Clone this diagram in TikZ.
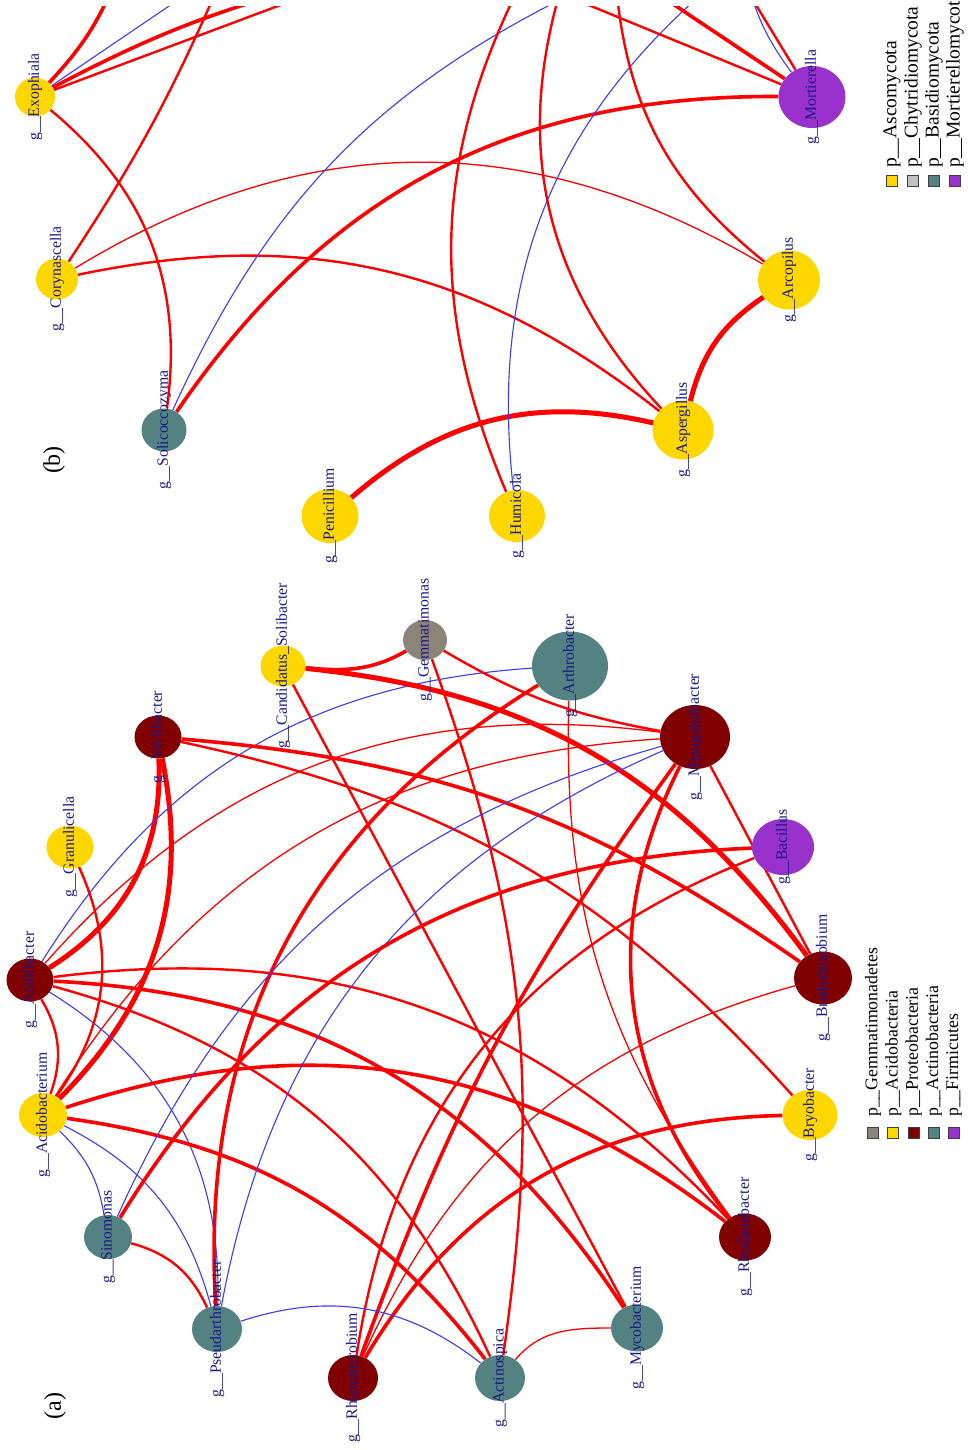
\documentclass[tikz,border=0pt]{standalone}
\usepackage{fontspec}
\setmainfont{Liberation Serif}
\usetikzlibrary{shapes.geometric,backgrounds}
\definecolor{acidoyellow}{RGB}{255,215,0}
\definecolor{proteored}{RGB}{128,0,0}
\definecolor{actinoteal}{RGB}{84,130,130}
\definecolor{gemmagrey}{RGB}{140,132,120}
\definecolor{firmipurple}{RGB}{153,50,204}
\definecolor{chytrigrey}{RGB}{192,192,192}
\definecolor{labelblue}{RGB}{25,25,135}
\definecolor{posred}{RGB}{255,0,0}
\definecolor{negblue}{RGB}{60,60,245}

\begin{document}
\begin{tikzpicture}[x=1pt,y=-1pt]
    \tikzstyle{genus}=[ellipse, inner sep=0pt]
    \tikzstyle{glabel}=[text=labelblue, rotate=90, inner sep=0pt, font=\fontsize{15.7}{16}\selectfont]
    \tikzstyle{keybox}=[draw=black!75, line width=0.8pt, minimum width=11pt, minimum height=11pt, inner sep=0pt]
    \tikzstyle{keytext}=[rotate=90, anchor=west, inner sep=0pt, font=\fontsize{17.8}{18}\selectfont]
    \tikzstyle{poslink}=[draw=posred]
    \tikzstyle{neglink}=[draw=negblue, line width=1.1pt]
    \tikzstyle{linkthin}=[line width=1.3pt]
    \tikzstyle{linkmid}=[line width=2.4pt]
    \tikzstyle{linkthick}=[line width=3.6pt]
    \tikzstyle{linkheavy}=[line width=5pt]
    \useasboundingbox (0,0) rectangle (968,1450);

    \node[genus, fill=acidoyellow, minimum width=40, minimum height=39] (exophiala) at (35,97) {};
    \node[genus, fill=acidoyellow, minimum width=42, minimum height=41] (corynascella) at (57,279) {};
    \node[genus, fill=actinoteal, minimum width=45, minimum height=43] (solicoccozyma) at (164,430) {};
    \node[genus, fill=acidoyellow, minimum width=57, minimum height=54] (penicillium) at (330,516) {};
    \node[genus, fill=acidoyellow, minimum width=56, minimum height=52] (humicola) at (517,516) {};
    \node[genus, fill=acidoyellow, minimum width=61, minimum height=59] (aspergillus) at (683,430) {};
    \node[genus, fill=acidoyellow, minimum width=62, minimum height=59] (arcopilus) at (789,280) {};
    \node[genus, fill=firmipurple, minimum width=67, minimum height=62] (mortierella) at (812,97) {};

    \coordinate (up-a) at (116,-20);
    \coordinate (up-b) at (200,-15);
    \coordinate (up-c) at (310,-15);
    \coordinate (up-d) at (334,-15);
    \coordinate (up-e) at (221,-20);
    \coordinate (up-f) at (590,-15);
    \coordinate (up-g) at (525,-25);
    \coordinate (up-h) at (712,-15);
    \coordinate (up-i) at (562,-15);
    \coordinate (up-j) at (616,-15);
    \coordinate (up-k) at (540,-15);
    \coordinate (up-l) at (640,-18);
    \coordinate (up-m) at (742,-18);
    \coordinate (up-n) at (748,-15);

    \node[genus, fill=proteored, minimum width=47, minimum height=43] (acidibacter) at (30,980) {};
    \node[genus, fill=acidoyellow, minimum width=47, minimum height=43] (granulicella) at (70,847) {};
    \node[genus, fill=proteored, minimum width=47, minimum height=43] (variibacter) at (158,737) {};
    \node[genus, fill=acidoyellow, minimum width=45, minimum height=41] (solibacter) at (283,666) {};
    \node[genus, fill=gemmagrey, minimum width=44, minimum height=40] (gemmatimonas) at (425,640) {};
    \node[genus, fill=actinoteal, minimum width=76, minimum height=69] (arthrobacter) at (570,666) {};
    \node[genus, fill=proteored, minimum width=70, minimum height=64] (mizugakiibacter) at (695,737) {};
    \node[genus, fill=firmipurple, minimum width=62, minimum height=56] (bacillus) at (783,847) {};
    \node[genus, fill=proteored, minimum width=58, minimum height=53] (bradyrhizobium) at (823,978) {};
    \node[genus, fill=acidoyellow, minimum width=55, minimum height=50] (bryobacter) at (810,1115) {};
    \node[genus, fill=proteored, minimum width=52, minimum height=47] (rhodanobacter) at (745,1237) {};
    \node[genus, fill=actinoteal, minimum width=52, minimum height=47] (mycobacterium) at (637,1328) {};
    \node[genus, fill=actinoteal, minimum width=50, minimum height=46] (actinospica) at (500,1378) {};
    \node[genus, fill=proteored, minimum width=50, minimum height=46] (rhizomicrobium) at (353,1378) {};
    \node[genus, fill=actinoteal, minimum width=50, minimum height=46] (pseudarthrobacter) at (217,1329) {};
    \node[genus, fill=actinoteal, minimum width=48, minimum height=44] (sinomonas) at (108,1237) {};
    \node[genus, fill=acidoyellow, minimum width=48, minimum height=44] (acidobacterium) at (43,1115) {};

    \begin{pgfonlayer}{background}
        \fill[white] (0,0) rectangle (968,1450);
        \begin{scope}
            \clip (0,7) rectangle (968,600);
            \draw[poslink, linkthick] (exophiala) to[bend right=10] (up-a);
            \draw[neglink] (exophiala) -- (up-b);
            \draw[poslink, linkthick] (exophiala) to[bend left=6] (up-c);
            \draw[poslink, linkmid] (exophiala) -- (up-d);
            \draw[poslink, linkmid] (exophiala) to[bend left=29] (solicoccozyma);
            \draw[poslink, linkmid] (corynascella) to[bend right=5] (up-e);
            \draw[poslink, linkthin] (corynascella) to[bend left=31] (arcopilus);
            \draw[poslink, linkmid] (corynascella) to[bend left=25] (aspergillus);
            \draw[neglink] (solicoccozyma) to[bend left=20] (up-f);
            \draw[poslink, linkthick] (solicoccozyma) to[bend left=28] (mortierella);
            \draw[poslink, linkheavy] (penicillium) to[bend left=27] (aspergillus);
            \draw[poslink, linkmid] (humicola) to[bend left=25] (up-g);
            \draw[neglink] (humicola) to[bend left=28] (up-h);
            \draw[poslink, linkmid] (aspergillus) to[bend left=30] (up-i);
            \draw[poslink, linkmid] (arcopilus) to[bend left=23] (up-j);
            \draw[poslink, linkheavy] (arcopilus) to[bend right=21] (aspergillus);
            \draw[poslink, linkmid] (mortierella) -- (up-k);
            \draw[poslink, linkthick] (mortierella) -- (up-l);
            \draw[poslink, linkmid] (mortierella) -- (up-m);
            \draw[neglink] (mortierella) to[bend left=10] (up-n);
        \end{scope}

        \draw[poslink, linkheavy] (acidibacter) to[bend right=30] (variibacter);
        \draw[poslink, linkheavy] (variibacter) to[bend left=28] (acidobacterium);
        \draw[neglink] (acidibacter) to[bend left=27] (arthrobacter);
        \draw[poslink, linkthin] (acidibacter) to[bend left=28] (mizugakiibacter);
        \draw[poslink, linkmid] (acidibacter) to[bend left=27] (rhodanobacter);
        \draw[poslink, linkthick] (acidibacter) to[bend left=27] (mycobacterium);
        \draw[poslink, linkmid] (acidibacter) to[bend left=25] (actinospica);
        \draw[neglink] (acidibacter) to[bend left=30] (pseudarthrobacter);
        \draw[poslink, linkmid] (acidibacter) to[bend left=25] (acidobacterium);
        \draw[poslink, linkmid] (granulicella) to[bend left=30] (acidobacterium);
        \draw[poslink, linkthin] (acidobacterium) to[bend left=27] (mizugakiibacter);
        \draw[poslink, linkthick] (acidobacterium) to[bend left=28] (rhodanobacter);
        \draw[neglink] (acidobacterium) to[bend left=18] (sinomonas);
        \draw[neglink] (acidobacterium) to[bend left=24] (pseudarthrobacter);
        \draw[poslink, linkthick] (acidobacterium) to[bend left=22] (actinospica);
        \draw[poslink, linkthick] (variibacter) to[bend left=15] (bradyrhizobium);
        \draw[poslink, linkmid] (variibacter) to[bend left=18] (bryobacter);
        \draw[poslink, linkthick] (solibacter) to[out=-5,in=210] (gemmatimonas);
        \draw[poslink, linkheavy] (solibacter) to[bend left=24] (bradyrhizobium);
        \draw[poslink, linkmid] (solibacter) -- (mycobacterium);
        \draw[poslink, linkmid] (gemmatimonas) to[bend right=10] (mizugakiibacter);
        \draw[poslink, linkmid] (gemmatimonas) to[bend left=14] (actinospica);
        \draw[poslink, linkthick] (arthrobacter) to[bend right=31] (pseudarthrobacter);
        \draw[poslink, linkthin] (arthrobacter) to[bend right=19] (rhodanobacter);
        \draw[neglink] (sinomonas) to[bend left=25] (mizugakiibacter);
        \draw[neglink] (pseudarthrobacter) to[bend left=28] (mizugakiibacter);
        \draw[poslink, linkthick] (mizugakiibacter) to[bend right=8] (rhizomicrobium);
        \draw[poslink, linkthick] (mizugakiibacter) to[bend right=33] (rhodanobacter);
        \draw[poslink, linkmid] (mizugakiibacter) -- (bradyrhizobium);
        \draw[poslink, linkthick] (bacillus) to[bend right=28] (sinomonas);
        \draw[poslink, linkmid] (bacillus) to[bend right=30] (rhizomicrobium);
        \draw[poslink, linkthin] (bradyrhizobium) to[bend right=25] (rhizomicrobium);
        \draw[poslink, linkthick] (bryobacter) to[bend right=29] (rhizomicrobium);
        \draw[poslink, linkthin] (actinospica) to[out=50,in=180] (mycobacterium);
        \draw[neglink] (pseudarthrobacter) to[bend left=28] (actinospica);
        \draw[poslink, linkmid] (sinomonas) to[bend left=25] (pseudarthrobacter);
    \end{pgfonlayer}

    \node[glabel] (exophiala-name) at (exophiala) {g\_\_Exophiala};
    \node[glabel] (corynascella-name) at (corynascella) {g\_\_Corynascella};
    \node[glabel] (solicoccozyma-name) at (solicoccozyma) {g\_\_Solicoccozyma};
    \node[glabel] (penicillium-name) at (penicillium) {g\_\_Penicillium};
    \node[glabel] (humicola-name) at (humicola) {g\_\_Humicola};
    \node[glabel] (aspergillus-name) at (aspergillus) {g\_\_Aspergillus};
    \node[glabel] (arcopilus-name) at (arcopilus) {g\_\_Arcopilus};
    \node[glabel] (mortierella-name) at (mortierella) {g\_\_Mortierella};

    \node[glabel] (acidibacter-name) at (acidibacter) {g\_\_Acidibacter};
    \node[glabel] (granulicella-name) at (granulicella) {g\_\_Granulicella};
    \node[glabel] (variibacter-name) at (variibacter) {g\_\_Variibacter};
    \node[glabel] (solibacter-name) at (solibacter) {g\_\_Candidatus\_Solibacter};
    \node[glabel] (gemmatimonas-name) at (gemmatimonas) {g\_\_Gemmatimonas};
    \node[glabel] (arthrobacter-name) at (arthrobacter) {g\_\_Arthrobacter};
    \node[glabel] (mizugakiibacter-name) at (mizugakiibacter) {g\_\_Mizugakiibacter};
    \node[glabel] (bacillus-name) at (bacillus) {g\_\_Bacillus};
    \node[glabel] (bradyrhizobium-name) at (bradyrhizobium) {g\_\_Bradyrhizobium};
    \node[glabel] (bryobacter-name) at (bryobacter) {g\_\_Bryobacter};
    \node[glabel] (rhodanobacter-name) at (rhodanobacter) {g\_\_Rhodanobacter};
    \node[glabel] (mycobacterium-name) at (mycobacterium) {g\_\_Mycobacterium};
    \node[glabel] (actinospica-name) at (actinospica) {g\_\_Actinospica};
    \node[glabel] (rhizomicrobium-name) at (rhizomicrobium) {g\_\_Rhizomicrobium};
    \node[glabel] (pseudarthrobacter-name) at (pseudarthrobacter) {g\_\_Pseudarthrobacter};
    \node[glabel] (sinomonas-name) at (sinomonas) {g\_\_Sinomonas};
    \node[glabel] (acidobacterium-name) at (acidobacterium) {g\_\_Acidobacterium};

    \node[rotate=90, font=\fontsize{24}{24}\selectfont] (panel-a) at (55,1406) {(a)};
    \node[rotate=90, font=\fontsize{24}{24}\selectfont] (panel-b) at (54,460) {(b)};

    \foreach \c/\t [count=\i] in {gemmagrey/Gemmatimonadetes, acidoyellow/Acidobacteria, proteored/Proteobacteria, actinoteal/Actinobacteria, firmipurple/Firmicutes} {
        \node[keybox, fill=\c] (bkey\i) at (852.75+20.25*\i,1133) {};
        \node[keytext] (bkeytext\i) at (852.75+20.25*\i,1117) {p\_\_\t};
    }
    \foreach \c/\t [count=\i] in {acidoyellow/Ascomycota, chytrigrey/Chytridiomycota, actinoteal/Basidiomycota, firmipurple/Mortierellomycota} {
        \node[keybox, fill=\c] (fkey\i) at (871+21*\i,181) {};
        \node[keytext, font=\fontsize{19.5}{20}\selectfont] (fkeytext\i) at (871+21*\i,168) {p\_\_\t};
    }
\end{tikzpicture}
\end{document}
